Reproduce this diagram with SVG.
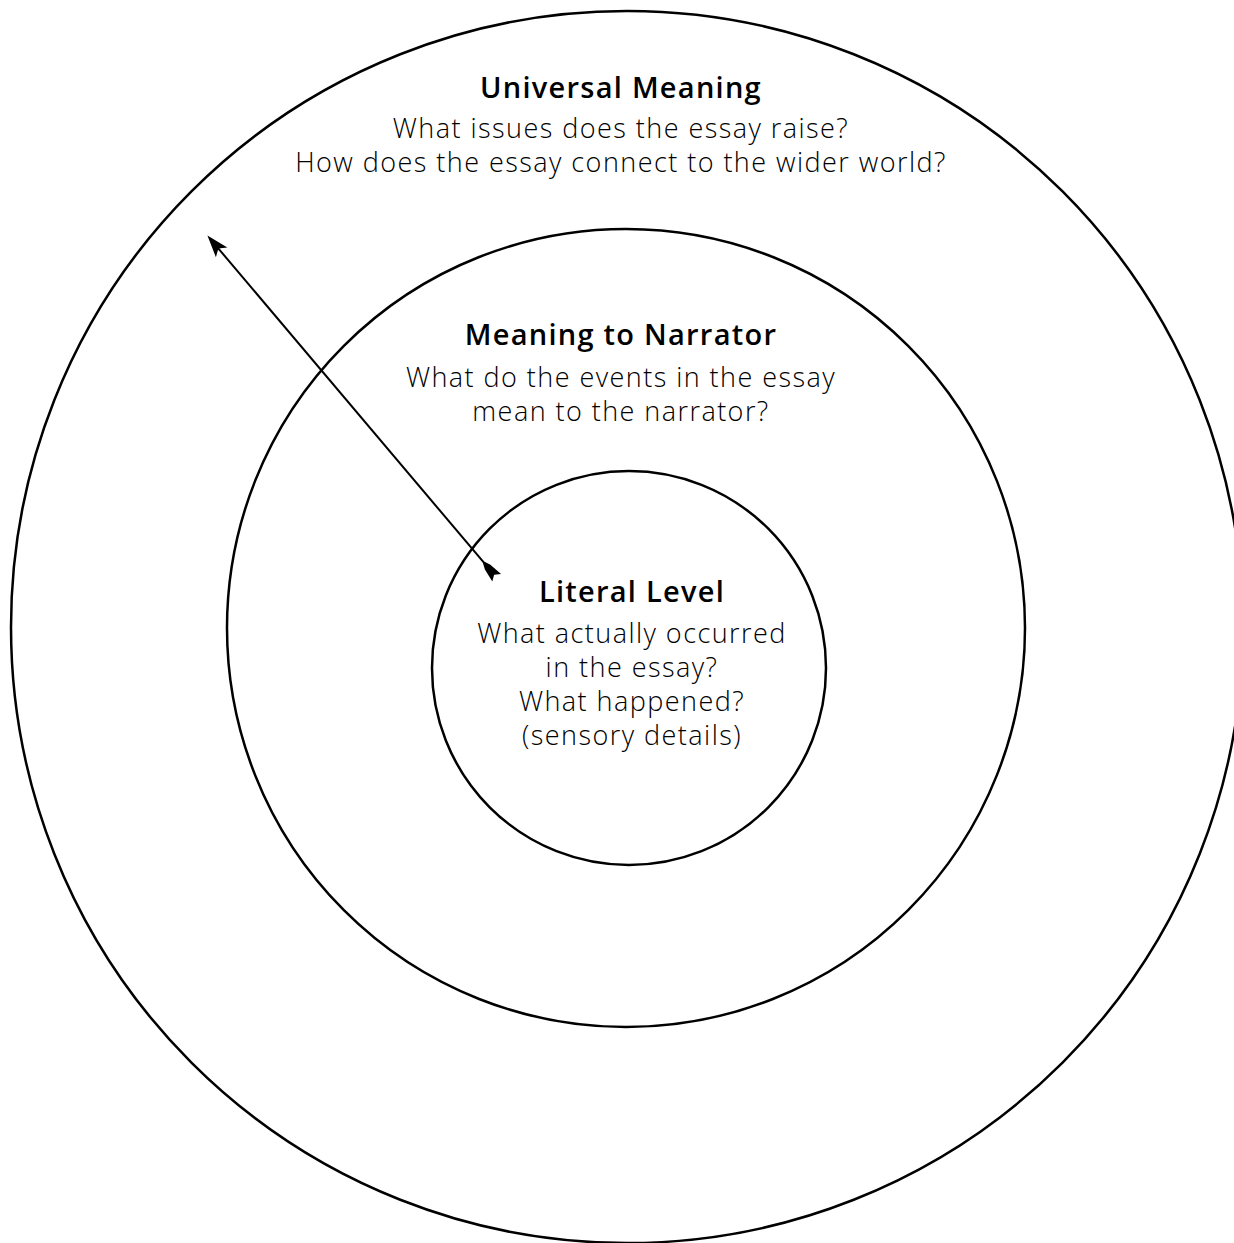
<svg xmlns="http://www.w3.org/2000/svg" width="1234" height="1243" viewBox="0 0 1234 1243">
<style>
  .ring { fill: none; stroke: #000; stroke-width: 2.5; }
  .title { font-family: "Open Sans", "Liberation Sans", sans-serif; font-weight: 600; font-size: 29px; letter-spacing: 1.25px; fill: #000; text-anchor: middle; }
  .body { font-family: "Open Sans", "Liberation Sans", sans-serif; font-weight: 300; font-size: 27px; letter-spacing: 1.45px; fill: #000; text-anchor: middle; }
  .conn { fill: none; stroke: #000; stroke-width: 2; }
</style>
<defs>
  <marker id="head" markerUnits="userSpaceOnUse" markerWidth="40" markerHeight="40" refX="0" refY="0" orient="auto" overflow="visible">
    <path d="M4,0 L-18,-7.5 L-13,0 L-18,7.5 Z" fill="#000"/>
  </marker>
  <marker id="fletch" markerUnits="userSpaceOnUse" markerWidth="40" markerHeight="40" refX="4" refY="0" orient="auto" overflow="visible">
    <path d="M0,-5.7 L4,0 L0,5.7 L14,3.6 L20,1 L20,-1 L14,-3.6 Z" fill="#000"/>
  </marker>
</defs>
<rect width="1234" height="1243" fill="#fff"/>
<g id="universal-meaning">
  <circle class="ring" cx="627" cy="627" r="616"/>
  <text class="title" x="621" y="98">Universal Meaning</text>
  <text class="body" x="621" y="138">What issues does the essay raise?</text>
  <text class="body" x="621" y="172">How does the essay connect to the wider world?</text>
</g>
<g id="meaning-to-narrator">
  <circle class="ring" cx="626" cy="628" r="399"/>
  <text class="title" x="621" y="345">Meaning to Narrator</text>
  <text class="body" x="621" y="387">What do the events in the essay</text>
  <text class="body" x="621" y="421">mean to the narrator?</text>
</g>
<g id="literal-level">
  <circle class="ring" cx="629" cy="668" r="197"/>
  <text class="title" x="632" y="602">Literal Level</text>
  <text class="body" x="632" y="643">What actually occurred</text>
  <text class="body" x="632" y="677">in the essay?</text>
  <text class="body" x="632" y="711">What happened?</text>
  <text class="body" x="632" y="745">(sensory details)</text>
</g>
<g id="connectors">
  <path class="conn" d="M494.1,574.7 L210,238.6" marker-start="url(#fletch)" marker-end="url(#head)"/>
</g>
</svg>
